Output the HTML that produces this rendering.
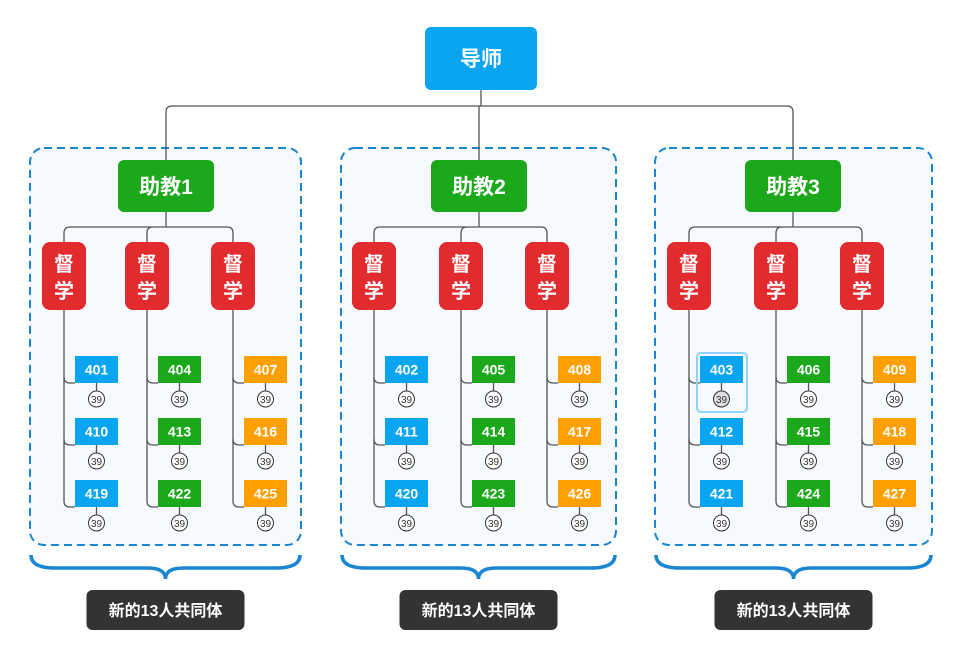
<!DOCTYPE html>
<html><head><meta charset="utf-8"><style>
html,body{margin:0;padding:0;background:#fff}
svg{display:block}
text{font-family:"Liberation Sans","Noto Sans CJK SC",sans-serif;font-weight:bold}
</style></head><body>
<svg id="s" width="954" height="668" viewBox="0 0 954 668" xmlns="http://www.w3.org/2000/svg">
<rect x="0" y="0" width="954" height="668" fill="#fff"/>
</svg>
<script>
const s=document.getElementById('s');let h='';
const groups=[{x1:30,x2:301,a:166,sups:[64,147,233]},{x1:341,x2:616,a:479,sups:[374,461,547]},{x1:655,x2:932,a:793,sups:[689,776,862]}];
const cols=['#0aa5f0','#1ba81b','#ff9f00'];
groups.forEach(g=>{h+=`<rect x="${g.x1}" y="148" width="${g.x2-g.x1}" height="397" rx="14" fill="#f6f9fd" stroke="#1a86d0" stroke-width="2" stroke-dasharray="8 5"/>`;});
h+=`<path d="M481,90 V106 M166,160 V112 Q166,106 172,106 H787 Q793,106 793,112 V160 M479,106 V160" fill="none" stroke="#555" stroke-width="1.3"/>`;
h+=`<rect x="425" y="27" width="112" height="63" rx="6" fill="#0aa5f0"/><text x="481" y="66" font-size="21" fill="#fff" text-anchor="middle">导师</text>`;
groups.forEach((g,gi)=>{
  const L=g.sups[0],R=g.sups[2],M=g.sups[1];
  h+=`<path d="M${g.a},212 V227 M${L},242 V233 Q${L},227 ${L+6},227 H${R-6} Q${R},227 ${R},233 V242 M${M},242 V233 Q${M},227 ${M+6},227" fill="none" stroke="#555" stroke-width="1.3"/>`;
  h+=`<rect x="${g.a-48}" y="160" width="96" height="52" rx="6" fill="#1ba81b"/><text x="${g.a}" y="194" font-size="21" fill="#fff" text-anchor="middle">助教${gi+1}</text>`;
  g.sups.forEach((sx,ci)=>{
    h+=`<rect x="${sx-22}" y="242" width="44" height="68" rx="8" fill="#e22b2e"/>`;
    h+=`<text x="${sx}" y="271" font-size="20" fill="#fff" text-anchor="middle">督</text><text x="${sx}" y="298" font-size="20" fill="#fff" text-anchor="middle">学</text>`;
    const rows=[356,418,480];
    h+=`<path d="M${sx},310 V${rows[2]+21} Q${sx},${rows[2]+27} ${sx+6},${rows[2]+27} H${sx+11}" fill="none" stroke="#555" stroke-width="1.3"/>`;
    rows.forEach((ry,ri)=>{
      const bx=sx+11,cx=bx+21.5,num=401+gi+3*ci+9*ri;
      if(ri<2)h+=`<path d="M${sx},${ry+21} Q${sx},${ry+27} ${sx+6},${ry+27} H${bx}" fill="none" stroke="#555" stroke-width="1.3"/>`;
      if(num==403)h+=`<rect x="${bx-3}" y="${ry-3}" width="50" height="59" rx="4" fill="none" stroke="#8fd3fb" stroke-width="2"/>`;
      h+=`<rect x="${bx}" y="${ry}" width="43" height="27" fill="${cols[ci]}"/>`;
      h+=`<text x="${cx}" y="${ry+18.5}" font-size="14" fill="#fff" text-anchor="middle">${num}</text>`;
      h+=`<path d="M${cx},${ry+27} V${ry+35}" stroke="#555" stroke-width="1.3"/>`;
      h+=`<circle cx="${cx}" cy="${ry+43}" r="8" fill="${num==403?'#ddd':'#fff'}" stroke="#333" stroke-width="1"/>`;
      h+=`<text x="${cx}" y="${ry+47}" font-size="10" style="font-weight:normal" fill="#333" text-anchor="middle">39</text>`;
    });
  });
  const m=(g.x1+g.x2)/2;
  h+=`<path d="M${g.x1+1},555 Q${g.x1+1},568 ${g.x1+25},568 H${m-18} Q${m},568 ${m},579 Q${m},568 ${m+18},568 H${g.x2-25} Q${g.x2-1},568 ${g.x2-1},555" fill="none" stroke="#1a86d0" stroke-width="3.5"/>`;
  h+=`<rect x="${m-79}" y="590" width="158" height="40" rx="6" fill="#333"/><text x="${m}" y="616" font-size="16" fill="#fff" text-anchor="middle">新的13人共同体</text>`;
});
s.insertAdjacentHTML('beforeend',h);
</script>
</body></html>
